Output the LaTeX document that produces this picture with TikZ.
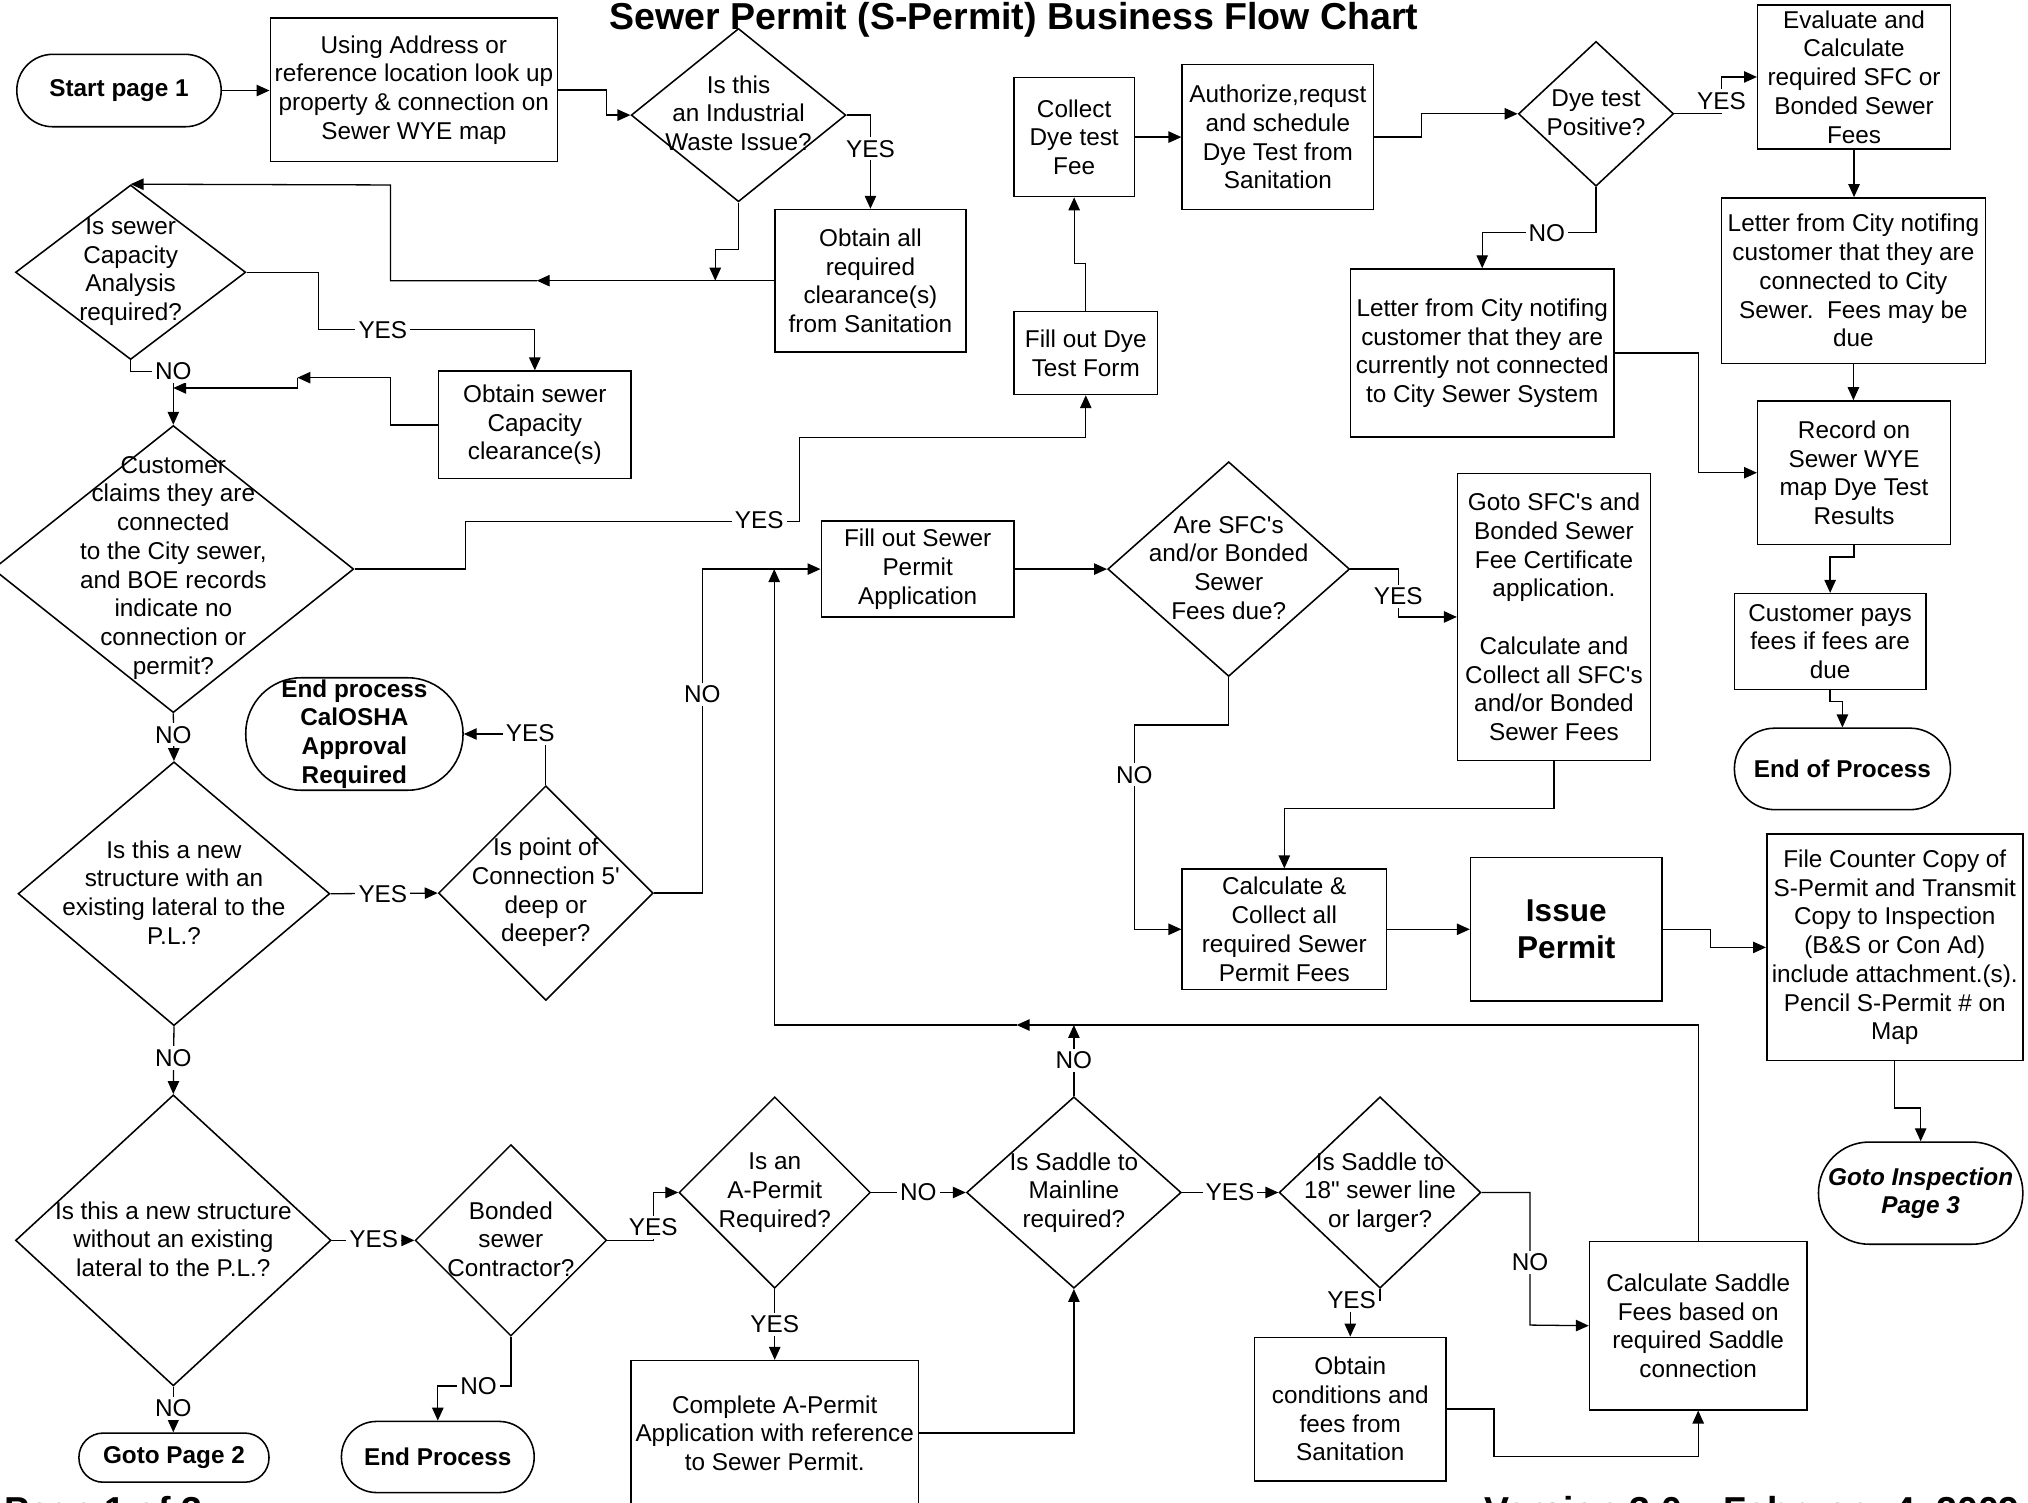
\documentclass[tikz,border=0pt]{standalone}
\usepackage{fontspec}
\setmainfont{Liberation Sans}
\newfontfamily\lsans{Liberation Sans}
\usetikzlibrary{shapes.geometric,arrows.meta}
\newcommand\bodyf{\lsans\fontsize{9.4}{11.1}\selectfont}
\newcommand\bigf{\lsans\fontsize{14.5}{17}\selectfont\bfseries}
\begin{document}
\begin{tikzpicture}[x=0.5pt,y=-0.5pt,
  box/.style={draw,line width=0.6pt,rectangle,inner sep=0pt,align=center,font=\bodyf},
  stad/.style={box,font=\bodyf\bfseries},
  dia/.style={draw,line width=0.6pt,diamond,inner sep=0pt},
  txt/.style={align=center,font=\bodyf,inner sep=0pt},
  lbl/.style={fill=white,inner sep=1.2pt,font=\bodyf},
  arr/.style={line width=0.5pt,-{Triangle[length=5pt,width=4.4pt]}}]
\useasboundingbox (0,0) rectangle (1568,1162);
\fill[white] (0,0) rectangle (1568,1162);

% title and footers
\node[font=\bigf,anchor=base,inner sep=0pt] (title) at (784,22.5) {Sewer Permit (S-Permit) Business Flow Chart};
\node[font=\bigf,anchor=base west,inner sep=0pt] (foot1) at (3,1178) {Page 1 of 3};
\node[font=\bigf,anchor=base west,inner sep=0pt] (foot2) at (1147,1178) {Version 3.0 – February 4, 2009};

% terminators
\node[stad,rounded corners=13.9pt,minimum width=79pt,minimum height=28pt] (s1) at (92,70) {Start page 1};
\node[stad,rounded corners=21.5pt,minimum width=84pt,minimum height=43.5pt] (s2) at (274,567.5) {End process\\CalOSHA\\Approval\\Required};
\node[stad,rounded corners=15.6pt,minimum width=83.5pt,minimum height=31.5pt] (s3) at (1424.5,594.5) {End of Process};
\node[stad,rounded corners=9.4pt,minimum width=73.5pt,minimum height=19pt] (s4) at (134.5,1127) {Goto Page 2};
\node[stad,rounded corners=13.6pt,minimum width=74.5pt,minimum height=27.5pt] (s5) at (338.5,1126.5) {End Process};
\node[stad,rounded corners=19.6pt,minimum width=79pt,minimum height=39.5pt,font=\bodyf\bfseries\itshape] (s6) at (1485,922.5) {Goto Inspection\\Page 3};

% boxes
\node[box,minimum width=111pt,minimum height=55.5pt] (b1) at (320,69.5) {Using Address or\\reference location look up\\property \& connection on\\Sewer WYE map};
\node[box,minimum width=74pt,minimum height=55pt] (b2) at (673,217) {Obtain all\\required\\clearance(s)\\from Sanitation};
\node[box,minimum width=74.5pt,minimum height=41.5pt] (b3) at (413.5,328.5) {Obtain sewer\\Capacity\\clearance(s)};
\node[box,minimum width=46.5pt,minimum height=46pt] (b4) at (830.5,106) {Collect\\Dye test\\Fee};
\node[box,minimum width=74pt,minimum height=56pt] (b5) at (988,106) {Authorize,requst\\and schedule\\Dye Test from\\Sanitation};
\node[box,minimum width=74.5pt,minimum height=55.5pt] (b6) at (1433.5,59.5) {Evaluate and\\Calculate\\required SFC or\\Bonded Sewer\\Fees};
\node[box,minimum width=102pt,minimum height=64pt] (b7) at (1433,217) {Letter from City notifing\\customer that they are\\connected to City\\Sewer.\ \ Fees may be\\due};
\node[box,minimum width=102pt,minimum height=65pt] (b8) at (1146,273) {Letter from City notifing\\customer that they are\\currently not connected\\to City Sewer System};
\node[box,minimum width=55.5pt,minimum height=32pt] (b9) at (839.5,273) {Fill out Dye\\Test Form};
\node[box,minimum width=74.5pt,minimum height=55.5pt] (b10) at (1433.5,365.5) {Record on\\Sewer WYE\\map Dye Test\\Results};
\node[box,minimum width=74pt,minimum height=37pt] (b11) at (1415,496) {Customer pays\\fees if fees are\\due};
\node[box,minimum width=74.5pt,minimum height=37pt] (b12) at (709.5,440) {Fill out Sewer\\Permit\\Application};
\node[box,minimum width=74.5pt,minimum height=111pt] (b13) at (1201.5,477) {Goto SFC's and\\Bonded Sewer\\Fee Certificate\\application.\\\mbox{}\\Calculate and\\Collect all SFC's\\and/or Bonded\\Sewer Fees};
\node[box,minimum width=79pt,minimum height=46.5pt] (b14) at (993,718.5) {Calculate \&\\Collect all\\required Sewer\\Permit Fees};
\node[box,minimum width=74pt,minimum height=55.5pt,font=\lsans\fontsize{12.2}{14.5}\selectfont\bfseries] (b15) at (1211,718.5) {Issue\\Permit};
\node[box,minimum width=99pt,minimum height=87.5pt] (b16) at (1465,732.5) {File Counter Copy of\\S-Permit and Transmit\\Copy to Inspection\\(B\&S or Con Ad)\\include attachment.(s).\\Pencil S-Permit \# on\\Map};
\node[box,minimum width=111pt,minimum height=56pt] (b17) at (599,1108) {Complete A-Permit\\Application with reference\\to Sewer Permit.};
\node[box,minimum width=74pt,minimum height=55.5pt] (b18) at (1044,1089.5) {Obtain\\conditions and\\fees from\\Sanitation};
\node[box,minimum width=84pt,minimum height=65pt] (b19) at (1313,1025) {Calculate Saddle\\Fees based on\\required Saddle\\connection};

% decisions
\node[dia,minimum width=83pt,minimum height=67pt] (d1) at (571,89) {};
\node[txt] (d1t) at (571,87.5) {Is this\\an Industrial\\Waste Issue?};
\node[dia,minimum width=89pt,minimum height=67.5pt] (d2) at (101,210.5) {};
\node[txt] (d2t) at (101,210) {Is sewer\\Capacity\\Analysis\\required?};
\node[dia,minimum width=139.5pt,minimum height=111pt] (d3) at (134,440) {};
\node[txt] (d3t) at (134,439) {Customer\\claims they are\\connected\\to the City sewer,\\and BOE records\\indicate no\\connection or\\permit?};
\node[dia,minimum width=120.5pt,minimum height=102pt] (d4) at (134.5,691) {};
\node[txt] (d4t) at (134.5,690) {Is this a new\\structure with an\\existing lateral to the\\P.L.?};
\node[dia,minimum width=83pt,minimum height=83pt] (d5) at (422,690.5) {};
\node[txt] (d5t) at (422,690) {Is point of\\Connection 5'\\deep or\\deeper?};
\node[dia,minimum width=60pt,minimum height=56pt] (d6) at (1234,88) {};
\node[txt] (d6t) at (1234,87) {Dye test\\Positive?};
\node[dia,minimum width=93.5pt,minimum height=83pt] (d7) at (950,440) {};
\node[txt] (d7t) at (950,439) {Are SFC's\\and/or Bonded\\Sewer\\Fees due?};
\node[dia,minimum width=122pt,minimum height=112.5pt] (d8) at (134,959) {};
\node[txt] (d8t) at (134,958) {Is this a new structure\\without an existing\\lateral to the P.L.?};
\node[dia,minimum width=74pt,minimum height=74pt] (d9) at (395,959) {};
\node[txt] (d9t) at (395,958) {Bonded\\sewer\\Contractor?};
\node[dia,minimum width=74pt,minimum height=74pt] (d10) at (599,922) {};
\node[txt] (d10t) at (599,922) {Is an\\A-Permit\\Required?};
\node[dia,minimum width=83pt,minimum height=74pt] (d11) at (830.3,922) {};
\node[txt] (d11t) at (830.3,922) {Is Saddle to\\Mainline\\required?};
\node[dia,minimum width=78pt,minimum height=74pt] (d12) at (1067,922) {};
\node[txt] (d12t) at (1067,922) {Is Saddle to\\18" sewer line\\or larger?};

% helper coordinates
\coordinate (m1) at (415,217);
\coordinate (m2) at (230,292);
\coordinate (j1) at (134,300);
\coordinate (m3) at (786,792.5);

% connectors
\draw[arr] (s1.east) -- (b1.west |- s1.east);
\draw[arr] (b1.east) -- (469,69.5) -- (469,89) -- (d1.west);
\draw[arr] (d1.east) -| (b2.north);
\draw[arr] (d1.south) -- (571,193) -- (553,193) -- (553,217);
\draw[arr] (b2.west) -- (m1);
\draw[arr] (m1) -- (302,217) -- (302,143) -- (d2.north);
\draw[arr] (d2.east) -- (246,210.5) -- (246,255) -- (413.5,255) -- (b3.north);
\draw[arr] (d2.south) |- (134,287) -- (d3.north);
\draw[arr] (b3.west) -- (302,328.5) -- (302,292) -- (m2);
\draw[arr] (m2) -- (230,300) -- (j1);
\draw[arr] (d3.east) -- (360,440) -- (360,403) -- (618,403) -- (618,338) -- (839.5,338) -- (b9.south);
\draw[arr] (d3.south) -- (d4.north);
\draw[arr] (d4.east) -- (d5.west);
\draw[arr] (d5.north) |- (s2.east);
\draw[arr] (d5.east) -- (543,690.5) -- (543,440) -- (b12.west);
\draw[arr] (b19.north) |- (m3);
\draw[arr] (m3) -- (598.6,792.5) -- (598.6,440);
\draw[arr] (d11.north) -- (830.3,792.5);
\draw[arr] (b4.east) -- (b5.west |- b4.east);
\draw[arr] (b5.east) -- (1099,106) -- (1099,88) -- (d6.west);
\draw[arr] (d6.east) -- (1331,88) -- (1331,59.5) -- (b6.west);
\draw[arr] (b6.south) -- (b6.south |- b7.north);
\draw[arr] (b7.south) -- (b7.south |- b10.north);
\draw[arr] (d6.south) -- (1234,180) -- (1146,180) -- (b8.north);
\draw[arr] (b8.east) -- (1313,273) -- (1313,365.5) -- (b10.west);
\draw[arr] (b9.north) -- (839.5,204) -- (830.5,204) -- (b4.south);
\draw[arr] (b12.east) -- (d7.west);
\draw[arr] (d7.east) -- (1081,440) -- (1081,477) -- (b13.west);
\draw[arr] (b13.south) -- (1201.5,625) -- (993,625) -- (b14.north);
\draw[arr] (d7.south) -- (950,560.5) -- (877,560.5) -- (877,718.5) -- (b14.west);
\draw[arr] (b14.east) -- (b15.west |- b14.east);
\draw[arr] (b15.east) -- (1322.6,718.5) -- (1322.6,732.5) -- (b16.west);
\draw[arr] (b10.south) -- (1433.5,430.6) -- (1415,430.6) -- (b11.north);
\draw[arr] (b11.south) -- (1415,542.5) -- (1424.5,542.5) -- (s3.north);
\draw[arr] (b16.south) -- (1465,856.6) -- (1485,856.6) -- (s6.north);
\draw[arr] (d4.south) -- (d8.north);
\draw[arr] (d8.east) -- (d9.west);
\draw[arr] (d9.east) -- (505,959) -- (505,922) -- (d10.west);
\draw[arr] (d9.south) -- (395,1071.6) -- (338.5,1071.6) -- (s5.north);
\draw[arr] (d8.south) -- (d8.south |- s4.north);
\draw[arr] (d10.east) -- (d11.west);
\draw[arr] (d10.south) -- (b17.north);
\draw[arr] (b17.east) -- (830.3,1108) -- (d11.south);
\draw[arr] (d11.east) -- (d12.west);
\draw[arr] (d12.east) -- (1183,922) -- (1183,1024.5) -- (b19.west);
\draw[arr] (d12.south) -- (1067,1005) -- (1044,1005) -- (b18.north);
\draw[arr] (b18.east) -- (1155,1089.5) -- (1155,1126) -- (1313,1126) -- (b19.south);

% connector labels
\node[lbl] (l1) at (673,115) {YES};
\node[lbl] (l2) at (296,255) {YES};
\node[lbl] (l3) at (134,287) {NO};
\node[lbl] (l4) at (587,402) {YES};
\node[lbl] (l5) at (134,568) {NO};
\node[lbl] (l6) at (296,691) {YES};
\node[lbl] (l7) at (410,567) {YES};
\node[lbl] (l8) at (543,537) {NO};
\node[lbl] (l9) at (830.3,820) {NO};
\node[lbl] (l10) at (1331,78) {YES};
\node[lbl] (l11) at (1196,180) {NO};
\node[lbl] (l12) at (1081,461) {YES};
\node[lbl] (l13) at (877,599) {NO};
\node[lbl] (l14) at (134,818) {NO};
\node[lbl] (l15) at (289,958) {YES};
\node[lbl] (l16) at (505,949) {YES};
\node[lbl] (l17) at (370,1071.6) {NO};
\node[lbl] (l18) at (134,1089) {NO};
\node[lbl] (l19) at (710,922) {NO};
\node[lbl] (l20) at (599,1024) {YES};
\node[lbl] (l21) at (951,922) {YES};
\node[lbl] (l22) at (1183,976) {NO};
\node[lbl] (l23) at (1045,1005) {YES};
\end{tikzpicture}
\end{document}
